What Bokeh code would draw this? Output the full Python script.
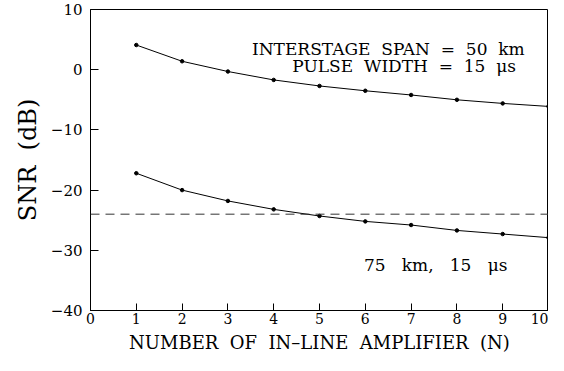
from bokeh.plotting import figure
from bokeh.models import Range1d, Span, Label, FixedTicker
from bokeh.embed import file_html
from bokeh.resources import INLINE

# Data
n_amp = [1, 2, 3, 4, 5, 6, 7, 8, 9, 10]
snr_50km = [4.1, 1.4, -0.3, -1.7, -2.7, -3.5, -4.2, -5.0, -5.6, -6.1]
snr_75km = [-17.2, -20.0, -21.8, -23.2, -24.3, -25.2, -25.8, -26.7, -27.3, -27.9]
threshold_db = -24.0
x_ticks = [0, 1, 2, 3, 4, 5, 6, 7, 8, 9, 10]
y_ticks = [-40, -30, -20, -10, 0, 10]

SERIF = "DejaVu Serif"
SP = " \u00a0"

p = figure(width=548, height=355, x_range=Range1d(0, 10), y_range=Range1d(-40, 10),
           output_backend="svg", toolbar_location=None,
           min_border_left=90, min_border_right=0, min_border_top=9, min_border_bottom=0)
p.background_fill_color = "white"
p.border_fill_color = "white"
p.outline_line_color = "black"
p.outline_line_width = 1
p.xgrid.visible = False
p.ygrid.visible = False

for ax in (p.xaxis, p.yaxis):
    ax.axis_line_color = "black"
    ax.major_tick_line_color = "black"
    ax.minor_tick_line_color = None
    ax.major_tick_out = 0
    ax.major_label_text_font = SERIF
    ax.major_label_text_color = "black"
    ax.axis_label_text_font = SERIF
    ax.axis_label_text_font_style = "normal"
    ax.axis_label_text_color = "black"

p.xaxis.major_label_text_font_size = "14px"
p.yaxis.major_label_text_font_size = "15px"
p.xaxis.ticker = FixedTicker(ticks=x_ticks)
p.yaxis.ticker = FixedTicker(ticks=y_ticks)
p.xaxis.major_tick_in = 7
p.yaxis.major_tick_in = 8
p.yaxis.major_label_overrides = {t: (str(t).replace("-", "\u2212")) for t in y_ticks}
p.xaxis.major_label_standoff = 2
p.yaxis.major_label_standoff = 8

p.xaxis.axis_label = "NUMBER" + SP + "OF" + SP + "IN\u2013LINE" + SP + "AMPLIFIER" + SP + "(N)"
p.xaxis.axis_label_text_font_size = "18px"
p.xaxis.axis_label_standoff = 5
p.yaxis.axis_label = "SNR" + SP + "(dB)"
p.yaxis.axis_label_text_font_size = "24px"
p.yaxis.axis_label_standoff = 6

p.add_layout(Span(location=threshold_db, dimension="width", line_color="#333333",
                  line_width=1, line_dash="9 6"))

p.line(n_amp, snr_50km, line_color="black", line_width=1)
p.scatter(n_amp, snr_50km, size=3.5, marker="circle", color="black")
p.line(n_amp, snr_75km, line_color="black", line_width=1)
p.scatter(n_amp, snr_75km, size=3.5, marker="circle", color="black")

p.add_layout(Label(x=9.48, y=3.5, text="INTERSTAGE" + SP + "SPAN" + SP + "=" + SP + "50" + SP + "km",
                   text_align="right", text_baseline="alphabetic", text_font=SERIF,
                   text_font_size="17px", text_color="black"))
p.add_layout(Label(x=9.29, y=0.6, text="PULSE" + SP + "WIDTH" + SP + "=" + SP + "15" + SP + "\u03bcs",
                   text_align="right", text_baseline="alphabetic", text_font=SERIF,
                   text_font_size="17px", text_color="black"))
p.add_layout(Label(x=5.97, y=-32.4, text="75" + SP + "\u00a0km," + SP + "\u00a015" + SP + "\u00a0\u03bcs",
                   text_align="left", text_baseline="alphabetic", text_font=SERIF,
                   text_font_size="17px", text_color="black"))

open("out.html", "w").write(file_html(p, INLINE))
